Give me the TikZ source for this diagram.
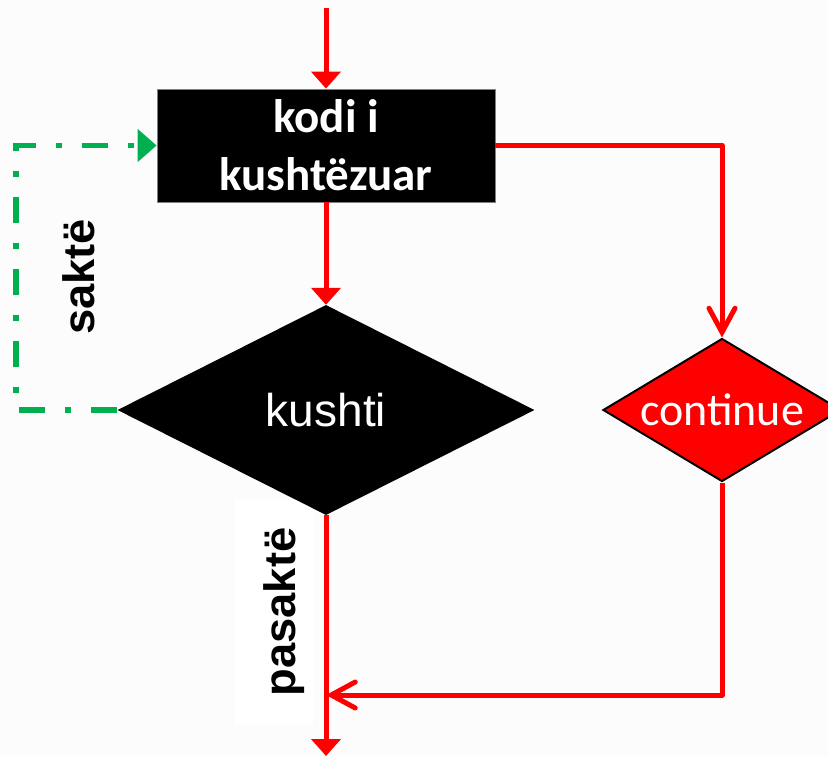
\documentclass[tikz,border=0pt]{standalone}
\usepackage{fontspec}
\setmainfont{Liberation Sans}
\newfontfamily\carlito{Carlito}
\usetikzlibrary{arrows.meta,shapes.geometric}
\definecolor{bgc}{RGB}{252,252,252}
\definecolor{redc}{RGB}{255,0,0}
\definecolor{greenc}{RGB}{0,176,80}
\tikzset{
  redline/.style={draw=redc,line width=5pt},
  greenline/.style={draw=greenc,line width=5.5pt,dash pattern=on 26pt off 20pt on 6pt off 20pt},
  filltip/.style={-{Triangle[width=29pt,length=17pt]}},
  opentip/.style={-{Straight Barb[width=26pt,length=24pt,line cap=round]}},
  codebox/.style={rectangle,fill=black,draw=gray,line width=0.8pt,minimum width=338pt,minimum height=113pt,inner sep=0pt,text=white,align=center,font=\carlito\bfseries\fontsize{47}{58}\selectfont},
  conddiamond/.style={diamond,shape aspect=2,fill=black,minimum width=417pt,minimum height=210pt,inner sep=0pt,text=white,font=\fontsize{46}{54}\selectfont},
  contdiamond/.style={diamond,shape aspect=1.66,fill=redc,draw=black,line width=2pt,minimum width=238pt,minimum height=143pt,inner sep=0pt,text=white,font=\carlito\fontsize{46}{55}\selectfont},
  sidelabel/.style={rotate=90,inner sep=0pt,font=\bfseries\fontsize{44}{52}\selectfont}
}
\begin{document}
\begin{tikzpicture}[x=1pt,y=-1pt]
\useasboundingbox (0,0) rectangle (828,756);
\fill[bgc] (0,0) rectangle (828,756);
% white patch behind label
\node[rectangle,fill=white,minimum width=78pt,minimum height=226pt,inner sep=0pt] (patch) at (274,612) {};
\node[codebox] (box) at (326,145.5) {kodi i\\kushtëzuar};
\node[conddiamond] (kushti) at (326,410) {kushti};
\node[contdiamond] (cont) at (722,410) {continue};
\node[sidelabel] (pasakte) at (284,612) {\scalebox{1.03}[1]{pasaktë}};
\node[sidelabel] (sakte) at (79,277) {\scalebox{1.03}[1]{saktë}};
\coordinate (top) at (326,8);
\coordinate (merge) at (326,695);
\coordinate (bot) at (326,756);
\coordinate (gc) at (16,410);
% connectors
\draw[redline,filltip] (top) -- (box.north);
\draw[redline,filltip] (box.south) -- (kushti.north);
\draw[redline,opentip,line join=round] (box.east) -| (cont.north);
\draw[redline,opentip,line join=round] (cont.south) |- (merge);
\draw[redline,filltip] (kushti.south) -- (bot);
\draw[greenline,-{Triangle[width=32pt,length=19pt]}] (kushti.west) -- (gc) |- (box.west);
\end{tikzpicture}
\end{document}
